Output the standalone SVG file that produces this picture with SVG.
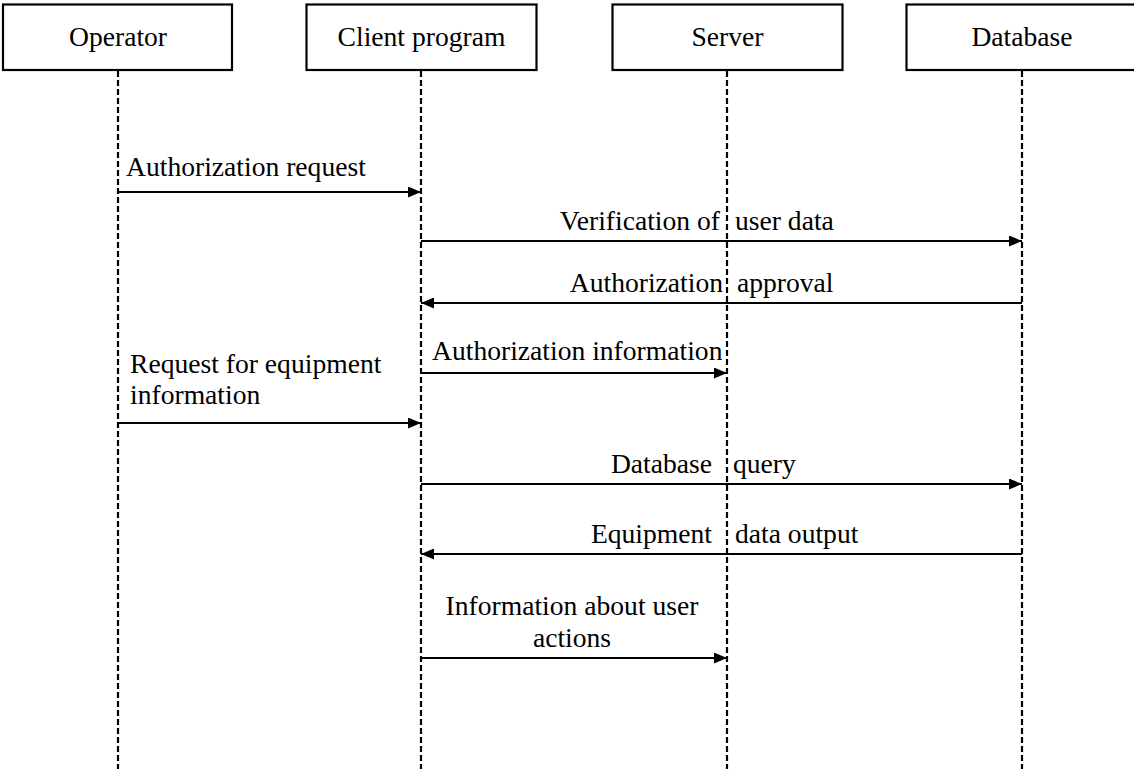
<svg xmlns="http://www.w3.org/2000/svg" width="1134" height="769" viewBox="0 0 1134 769" font-family="'Liberation Serif', 'DejaVu Serif', serif" font-size="27.6">
<style>
.box{fill:#fff;stroke:#000;stroke-width:2.2}
.life{stroke:#000;stroke-width:2.2;stroke-dasharray:6 3;fill:none}
.msg{stroke:#000;stroke-width:2.2;fill:none}
text{font-family:'Liberation Serif','DejaVu Serif',serif;font-size:27.6px;fill:#000}
.c{text-anchor:middle}
.e{text-anchor:end}
</style>
<defs>
<marker id="ah" markerUnits="userSpaceOnUse" markerWidth="13" markerHeight="11" refX="13" refY="5.5" orient="auto">
<path d="M0,0 L13,5.5 L0,11 z" fill="#000"/>
</marker>
</defs>
<rect width="1134" height="769" fill="#fff"/>
<g id="operator">
<rect class="box" x="3" y="4.5" width="229" height="65.5"/>
<text class="c" x="118" y="46">Operator</text>
<line class="life" x1="118" y1="71" x2="118" y2="769"/>
</g>
<g id="client">
<rect class="box" x="306.5" y="4.5" width="230" height="65.5"/>
<text class="c" x="421.5" y="46">Client program</text>
<line class="life" x1="421" y1="71" x2="421" y2="769"/>
</g>
<g id="server">
<rect class="box" x="612.5" y="4.5" width="230" height="65.5"/>
<text class="c" x="727.5" y="46">Server</text>
<line class="life" x1="727" y1="71" x2="727" y2="769"/>
</g>
<g id="database">
<rect class="box" x="906.5" y="4.5" width="232" height="65.5"/>
<text class="c" x="1022" y="46">Database</text>
<line class="life" x1="1022" y1="71" x2="1022" y2="769"/>
</g>
<g id="connectors">
<line class="msg" x1="118" y1="192" x2="421" y2="192" marker-end="url(#ah)"/>
<text x="126" y="176">Authorization request</text>

<line class="msg" x1="421" y1="241" x2="1022" y2="241" marker-end="url(#ah)"/>
<text y="230"><tspan class="e" x="720">Verification of</tspan><tspan x="735">user data</tspan></text>

<line class="msg" x1="1022" y1="303" x2="421" y2="303" marker-end="url(#ah)"/>
<text y="292"><tspan class="e" x="723">Authorization</tspan><tspan x="737">approval</tspan></text>

<line class="msg" x1="421" y1="373" x2="727" y2="373" marker-end="url(#ah)"/>
<text x="432" y="360">Authorization information</text>

<line class="msg" x1="118" y1="423" x2="421" y2="423" marker-end="url(#ah)"/>
<text x="130" y="373">Request for equipment</text>
<text x="130" y="404">information</text>

<line class="msg" x1="421" y1="484" x2="1022" y2="484" marker-end="url(#ah)"/>
<text y="473"><tspan class="e" x="712">Database</tspan><tspan x="733">query</tspan></text>

<line class="msg" x1="1022" y1="554" x2="421" y2="554" marker-end="url(#ah)"/>
<text y="543"><tspan class="e" x="712">Equipment</tspan><tspan x="735">data output</tspan></text>

<line class="msg" x1="421" y1="658" x2="727" y2="658" marker-end="url(#ah)"/>
<text class="c" x="572" y="615">Information about user</text>
<text class="c" x="572" y="647">actions</text>
</g>
</svg>
